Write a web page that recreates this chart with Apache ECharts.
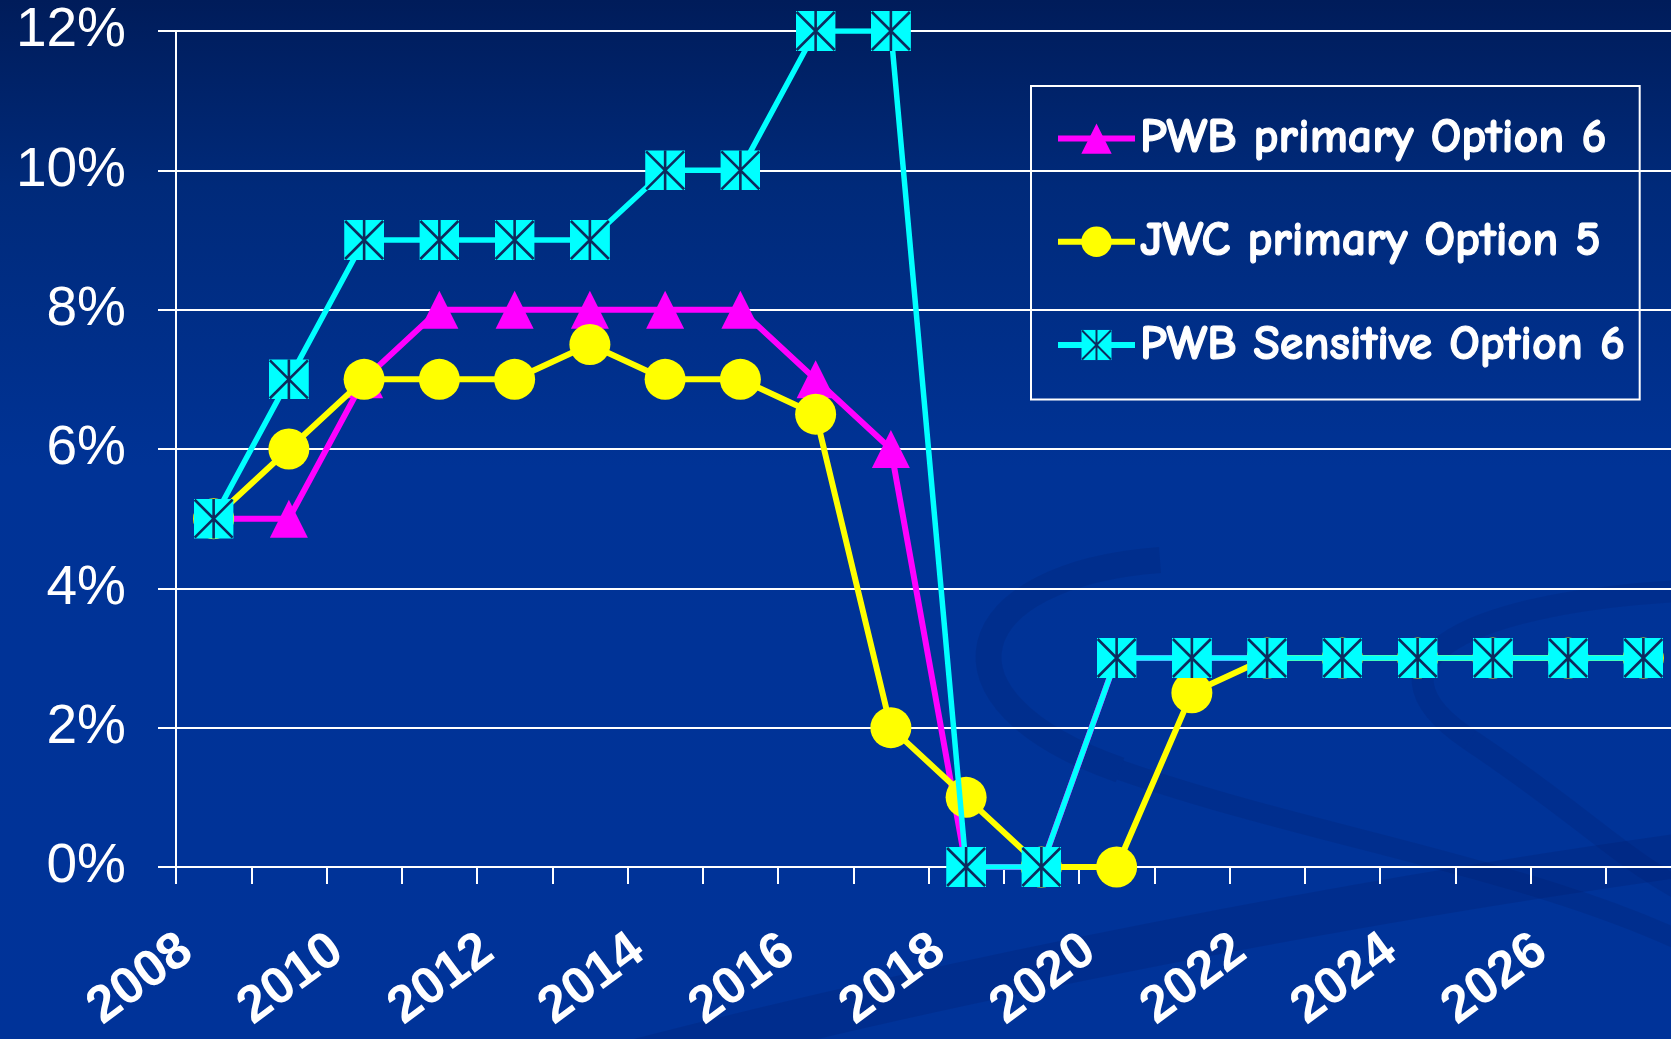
<!DOCTYPE html>
<html>
<head>
<meta charset="utf-8">
<script src="https://cdn.jsdelivr.net/npm/echarts@6/dist/echarts.min.js"></script>
<style>
html,body{margin:0;padding:0;background:#003399;}
#chart{width:1671px;height:1039px;}
</style>
</head>
<body>
<div id="chart"></div>
<script>
const years = ['2008','2009','2010','2011','2012','2013','2014','2015','2016','2017','2018','2019','2020','2021','2022','2023','2024','2025','2026','2027'];
const pwbPrimary   = [5, 5, 7, 8, 8, 8,   8, 8, 7,   6, 0, 0, 3, 3,   3, 3, 3, 3, 3, 3];
const jwcPrimary   = [5, 6, 7, 7, 7, 7.5, 7, 7, 6.5, 2, 1, 0, 0, 2.5, 3, 3, 3, 3, 3, 3];
const pwbSensitive = [5, 7, 9, 9, 9, 9,  10,10,12, 12, 0, 0, 3, 3,   3, 3, 3, 3, 3, 3];
const seriesNames = ['PWB primary Option 6', 'JWC primary Option 5', 'PWB Sensitive Option 6'];
const yMin = 0, yMax = 12, yStep = 2;

const squareSvg = "<svg xmlns='http://www.w3.org/2000/svg' width='40' height='40' viewBox='0 0 40 40'>" +
  "<rect x='0' y='0' width='40' height='40' fill='#00ffff'/>" +
  "<path d='M1 1L39 39M39 1L1 39M20 0V40' stroke='#0d2b5e' stroke-width='2.6' fill='none'/></svg>";
const squareSymbol = 'image://data:image/svg+xml;charset=utf-8,' + encodeURIComponent(squareSvg);

function swirl(x1, y1, cpx1, cpy1, cpx2, cpy2, x2, y2, w, a) {
  return {type: 'bezierCurve', z: -10, silent: true,
    shape: {x1: x1, y1: y1, cpx1: cpx1, cpy1: cpy1, cpx2: cpx2, cpy2: cpy2, x2: x2, y2: y2},
    style: {fill: 'none', stroke: 'rgba(0,28,105,' + a + ')', lineWidth: w}};
}

const chart = echarts.init(document.getElementById('chart'), null, {renderer: 'canvas'});
const white = '#ffffff';
const option = {
  animation: false,
  backgroundColor: {
    type: 'linear', x: 0, y: 0, x2: 0, y2: 1,
    colorStops: [
      {offset: 0, color: '#001c5a'},
      {offset: 0.18, color: '#002a7a'},
      {offset: 0.45, color: '#003396'},
      {offset: 1, color: '#003399'}
    ]
  },
  graphic: [
    swirl(1160, 560, 960, 575, 920, 700, 1120, 770, 26, 0.2),
    swirl(1120, 770, 1320, 840, 1550, 870, 1720, 960, 20, 0.2),
    swirl(640, 1060, 950, 980, 1350, 900, 1720, 850, 44, 0.22),
    swirl(1700, 590, 1470, 600, 1350, 660, 1470, 740, 22, 0.18),
    swirl(1470, 740, 1590, 820, 1620, 860, 1700, 900, 22, 0.18)
  ],
  legend: {
    left: 1031, top: 86,
    orient: 'vertical',
    data: seriesNames,
    itemWidth: 77, itemHeight: 38, itemGap: 54,
    padding: [28, 14, 30, 24],
    borderColor: white, borderWidth: 2,
    backgroundColor: 'rgba(0,0,0,0)',
    lineStyle: {width: 6},
    textStyle: {color: white, fontSize: 48, fontWeight: 'bold', lineHeight: 38,
      textBorderColor: white, textBorderWidth: 1.2,
      fontFamily: '"Comic Sans MS", "Comic Neue", "Noto Sans", sans-serif'}
  },
  grid: [
    {left: 176, right: -10, top: 31, height: 836, outerBoundsMode: 'none', containLabel: false},
    {left: 187, right: -21, top: 31, height: 836, outerBoundsMode: 'none', containLabel: false}
  ],
  xAxis: [
    {type: 'category', gridIndex: 0, data: years, boundaryGap: true,
     axisLine: {show: true, lineStyle: {color: white, width: 2}},
     axisTick: {show: true, interval: 0, length: 17, lineStyle: {color: white, width: 2}},
     axisLabel: {show: false},
     splitLine: {show: false}},
    {type: 'value', gridIndex: 1, min: 0, max: years.length, interval: 2,
     axisLine: {show: false}, axisTick: {show: false}, splitLine: {show: false},
     axisLabel: {show: true, rotate: 36.5, margin: 78, color: white, fontSize: 52, fontWeight: 'bold',
       fontFamily: '"Liberation Sans", Arial, sans-serif',
       formatter: function (v) { return years[Math.round(v)] || ''; }}}
  ],
  yAxis: [
    {type: 'value', gridIndex: 0, min: yMin, max: yMax, interval: yStep,
     axisLine: {show: true, lineStyle: {color: white, width: 2}},
     axisTick: {show: true, length: 18, lineStyle: {color: white, width: 2}},
     splitLine: {show: true, lineStyle: {color: white, width: 2}},
     axisLabel: {color: white, fontSize: 55, margin: 50,
       fontFamily: '"Liberation Sans", Arial, sans-serif', formatter: '{value}%'}},
    {type: 'value', gridIndex: 1, min: yMin, max: yMax, show: false}
  ],
  series: [
    {name: seriesNames[0], type: 'line', xAxisIndex: 0, yAxisIndex: 0, data: pwbPrimary,
     symbol: 'triangle', symbolSize: 38,
     lineStyle: {color: '#ff00ff', width: 6}, itemStyle: {color: '#ff00ff'}, z: 3},
    {name: seriesNames[1], type: 'line', xAxisIndex: 0, yAxisIndex: 0, data: jwcPrimary,
     symbol: 'circle', symbolSize: 41,
     lineStyle: {color: '#ffff00', width: 6}, itemStyle: {color: '#ffff00'}, z: 4},
    {name: seriesNames[2], type: 'line', xAxisIndex: 0, yAxisIndex: 0, data: pwbSensitive,
     symbol: squareSymbol, symbolSize: 40,
     lineStyle: {color: '#00ffff', width: 5.5}, itemStyle: {color: '#00ffff'}, z: 5}
  ]
};
chart.setOption(option);
</script>
</body>
</html>
